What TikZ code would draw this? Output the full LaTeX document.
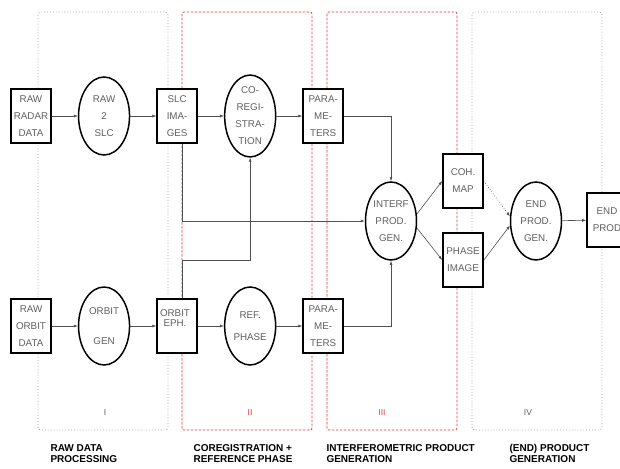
\documentclass[tikz,border=0pt]{standalone}
\usepackage{fontspec}
\setmainfont{Liberation Sans}
\usepackage{tikz}
\usetikzlibrary{positioning,arrows.meta,shapes.geometric}
\usepackage{xcolor}
\definecolor{FlowGray}{RGB}{80,80,80}
\definecolor{TextGray}{RGB}{95,95,95}
\definecolor{PhaseRed}{RGB}{225,60,60}
\definecolor{FrameGray}{RGB}{165,165,165}

\begin{document}
\begin{tikzpicture}[x=1pt,y=-1pt,
node distance=26pt,
box/.style={rectangle,draw=black,line width=1.6pt,fill=white,inner sep=1pt,
minimum width=40pt,minimum height=54pt,align=center,text=TextGray,
font=\fontsize{9.8}{17}\selectfont},
proc/.style={ellipse,draw=black,line width=1.5pt,fill=white,inner sep=0pt,
minimum width=51pt,minimum height=78pt,align=center,text=TextGray,
font=\fontsize{9.8}{17}\selectfont},
arrow/.style={-{Latex[length=4pt,width=3pt]},line width=0.6pt,draw=FlowGray},
greyframe/.style={draw=FrameGray,dotted,line width=0.9pt,rounded corners=3pt},
redframe/.style={draw=PhaseRed,dash pattern=on 2.5pt off 1.5pt,line width=0.7pt,rounded corners=2pt},
numeral/.style={font=\fontsize{8.5}{8.5}\selectfont},
phase/.style={anchor=north west,align=left,font=\bfseries\fontsize{10}{11}\selectfont}
]
\useasboundingbox (0,0) rectangle (620,468);
% processing stages
\draw[greyframe] (38,12) rectangle (168,430);
\draw[redframe] (182,12) rectangle (312,430);
\draw[redframe] (327,12) rectangle (457,430);
\draw[greyframe] (472,12) rectangle (602,430);

% radar chain
\node[box] (rawradar) at (31,116) {RAW\\RADAR\\DATA};
\node[proc,right=of rawradar] (rawslc) {RAW\\2\\SLC};
\node[box,right=of rawslc] (slc) {SLC\\IMA-\\GES};
\node[proc,right=of slc] (coreg) {CO-\\REGI-\\STRA-\\TION};
\node[box,right=of coreg] (parup) {PARA-\\ME-\\TERS};

% orbit chain
\node[box] (raworbit) at (31,326) {RAW\\ORBIT\\DATA};
\node[proc,right=of raworbit] (orbitgen) {ORBIT\\[13pt]GEN};
\node[box,right=of orbitgen] (orbeph) {};
\node[align=center,text=TextGray,font=\fontsize{9.8}{10.5}\selectfont] (orbephtxt) at (175,318) {ORBIT\\EPH.};
\node[proc,right=of orbeph] (refphase) {REF.\\[5pt]PHASE};
\node[box,right=of refphase] (pardown) {PARA-\\ME-\\TERS};

% products
\node[proc] (interf) at (391,221) {INTERF\\PROD.\\GEN.};
\node[box] (cohmap) at (463,181) {COH.\\MAP};
\node[box] (phaseimg) at (463,260) {PHASE\\IMAGE};
\node[proc] (endgen) at (536,221) {END\\PROD.\\GEN.};
\node[box] (endprod) at (607,220) {END\\PROD};

\coordinate (split) at (182,221);
\coordinate (join) at (182,260);

\draw[arrow] (rawradar)--(rawslc); \draw[arrow] (rawslc)--(slc); \draw[arrow] (slc)--(coreg); \draw[arrow] (coreg)--(parup);
\draw[arrow] (raworbit)--(orbitgen); \draw[arrow] (orbitgen)--(orbeph); \draw[arrow] (orbeph)--(refphase); \draw[arrow] (refphase)--(pardown);
\draw[arrow] (slc.south -| split) -- (split) -- (interf.west);
\draw[arrow] (orbeph.north -| join) -- (join) -| (coreg.south);
\draw[arrow] (parup.east) -| (interf.north);
\draw[arrow] (pardown.east) -| (interf.south);
\draw[arrow] (interf.15) -- (cohmap.west);
\draw[arrow] (interf.-15) -- (phaseimg.west);
\draw[arrow,dotted] (cohmap.east) -- (endgen.170);
\draw[arrow] (phaseimg.east) -- (endgen.190);
\draw[arrow] (endgen) -- (endprod);

% stage numbers and captions
\node[numeral,text=TextGray] (numi) at (105,413) {I};
\node[numeral,text=PhaseRed] (numii) at (250,413) {II};
\node[numeral,text=PhaseRed] (numiii) at (382,413) {III};
\node[numeral,text=TextGray] (numiv) at (528,413) {IV};
\node[phase] (capi) at (47,441) {RAW DATA\\PROCESSING};
\node[phase] (capii) at (190,441) {COREGISTRATION +\\REFERENCE PHASE};
\node[phase] (capiii) at (323,441) {INTERFEROMETRIC PRODUCT\\GENERATION};
\node[phase] (capiv) at (506,441) {(END) PRODUCT\\GENERATION};
\end{tikzpicture}
\end{document}
